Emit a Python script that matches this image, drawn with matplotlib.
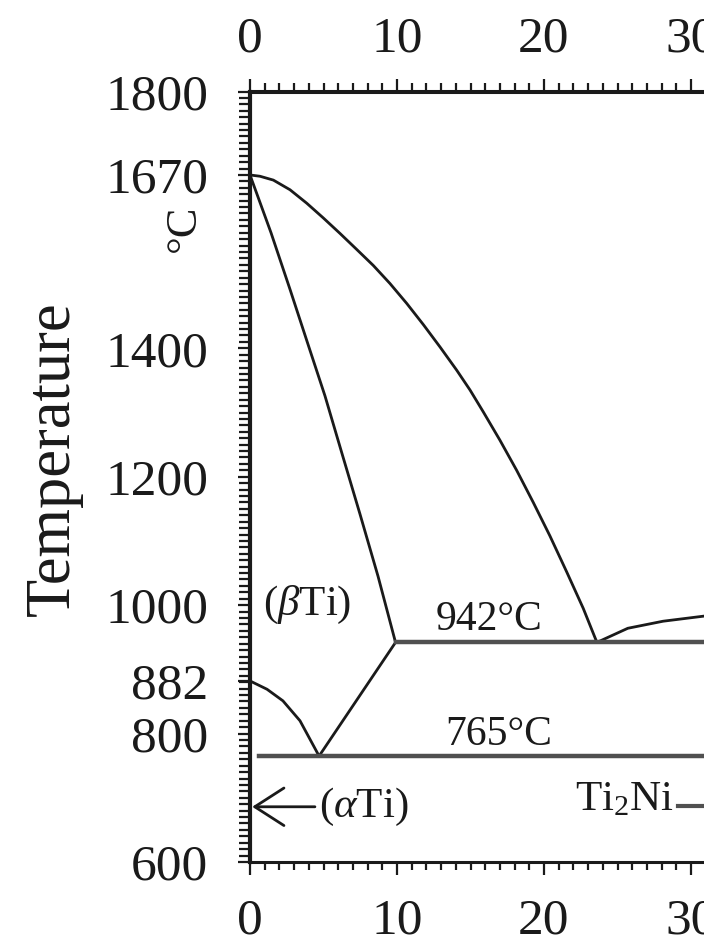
import matplotlib
matplotlib.use("Agg")
import matplotlib.pyplot as plt
from matplotlib.ticker import MultipleLocator, FixedLocator

plt.rcParams['font.family'] = ['Liberation Serif', 'DejaVu Serif']
plt.rcParams['mathtext.fontset'] = 'custom'
plt.rcParams['mathtext.rm'] = 'Liberation Serif'
plt.rcParams['mathtext.it'] = 'Liberation Serif:italic'

# ---- data (at.% Ni, temperature in °C) ----
liquidus_x = [0.0, 0.68, 1.59, 2.72, 3.86, 4.99, 6.12, 7.26, 8.39, 9.52, 10.66, 11.79,
              12.93, 14.06, 14.97, 15.87, 17.0, 18.14, 19.27, 20.4, 21.54, 22.67, 23.6]
liquidus_t = [1670, 1668, 1662, 1647, 1626, 1603, 1579, 1554, 1529, 1501, 1470, 1437,
              1402, 1366, 1335, 1301, 1257, 1210, 1160, 1108, 1052, 995, 942]

liquidus_r_x = [23.6, 25.7, 28.1, 30.9]
liquidus_r_t = [942, 964, 975, 983]

solidus_x = [0.0, 1.43, 2.72, 3.95, 5.1, 6.26, 7.48, 8.71, 9.9]
solidus_t = [1670, 1580, 1492, 1406, 1326, 1236, 1142, 1045, 942]

transus_l_x = [0.0, 1.16, 2.24, 3.4, 4.7]
transus_l_t = [882, 869, 851, 820, 765]

transus_r_x = [4.7, 9.9]
transus_r_t = [765, 942]

eutectic_t = 942
eutectic_x = [9.9, 35]
eutectoid_t = 765
eutectoid_x = [0.6, 35]

ti2ni_mark_x = [29.1, 35]
ti2ni_mark_t = [687, 687]

y_ticks = [600, 800, 882, 1000, 1200, 1400, 1670, 1800]
x_ticks = [0, 10, 20, 30]

# ---- figure ----
W, H = 704, 943
fig = plt.figure(figsize=(W / 100, H / 100), dpi=100)
ax = fig.add_axes([250 / W, 1 - 862 / H, 514.5 / W, 770.5 / H])
ax.set_xlim(0, 35)
ax.set_ylim(600, 1800)

dark = '#1a1a1a'
grey = '#505050'

for xs, ts in [(liquidus_x, liquidus_t), (liquidus_r_x, liquidus_r_t),
               (solidus_x, solidus_t), (transus_l_x, transus_l_t),
               (transus_r_x, transus_r_t)]:
    ax.plot(xs, ts, color=dark, lw=2.0, solid_capstyle='round',
            solid_joinstyle='round')
ax.plot(eutectic_x, [eutectic_t] * 2, color=grey, lw=3.2)
ax.plot(eutectoid_x, [eutectoid_t] * 2, color=grey, lw=3.2)
ax.plot(ti2ni_mark_x, ti2ni_mark_t, color=grey, lw=3.0)

# ---- axes styling ----
for s in ['top', 'bottom']:
    ax.spines[s].set_linewidth(2.2)
    ax.spines[s].set_color(dark)
ax.spines['left'].set_linewidth(3.0)
ax.spines['left'].set_color(dark)
ax.spines['right'].set_visible(False)

ax.xaxis.set_major_locator(FixedLocator(x_ticks))
ax.xaxis.set_minor_locator(MultipleLocator(1))
ax.yaxis.set_major_locator(FixedLocator(y_ticks))
ax.yaxis.set_minor_locator(MultipleLocator(10))

ax.tick_params(axis='x', which='both', direction='out', top=False, bottom=True,
               labeltop=False, labelbottom=True, colors=dark, width=1.6)
ax.tick_params(axis='x', which='major', length=9, pad=17, labelsize=37)
ax.tick_params(axis='x', which='minor', length=6)
ax.tick_params(axis='y', which='both', direction='out', left=True, right=False,
               colors=dark, width=1.6)
ax.tick_params(axis='y', which='major', length=9, pad=21, labelsize=37)
ax.tick_params(axis='y', which='minor', length=8)
ax.set_yticklabels([str(v) for v in y_ticks])
ax.set_xticklabels([str(v) for v in x_ticks])

# top axis (same scale, own label padding)
top = ax.secondary_xaxis('top')
top.xaxis.set_major_locator(FixedLocator(x_ticks))
top.xaxis.set_minor_locator(MultipleLocator(1))
top.set_xticklabels([str(v) for v in x_ticks])
top.spines['top'].set_linewidth(2.2)
top.spines['top'].set_color(dark)
top.tick_params(axis='x', which='both', direction='out', colors=dark, width=1.6)
top.tick_params(axis='x', which='major', length=9, pad=12, labelsize=37)
top.tick_params(axis='x', which='minor', length=6)

ax.set_ylabel('Temperature', fontsize=45, color=dark)
ax.yaxis.set_label_coords(-0.325, 0.524)
ax.text(-0.128, 0.823, '°C', transform=ax.transAxes, rotation=90,
        ha='center', va='center', fontsize=32, color=dark)

# ---- annotations ----
ax.text(0.9, 1000, r'($\beta$Ti)', ha='left', va='center', fontsize=31, color=dark)
ax.text(12.6, 977, '942°C', ha='left', va='center', fontsize=30, color=dark)
ax.text(13.3, 798, '765°C', ha='left', va='center', fontsize=30, color=dark)
ax.annotate(r'($\alpha$Ti)', xy=(0.15, 686), xytext=(4.7, 686),
            ha='left', va='center', fontsize=31, color=dark,
            arrowprops=dict(arrowstyle='->,head_length=0.7,head_width=0.45',
                            lw=2.0, color=dark, mutation_scale=30,
                            shrinkA=1, shrinkB=0))
ax.text(28.8, 696, r'Ti$_2$Ni', ha='right', va='center', fontsize=31, color=dark)

fig.savefig('out.png', dpi=100)
